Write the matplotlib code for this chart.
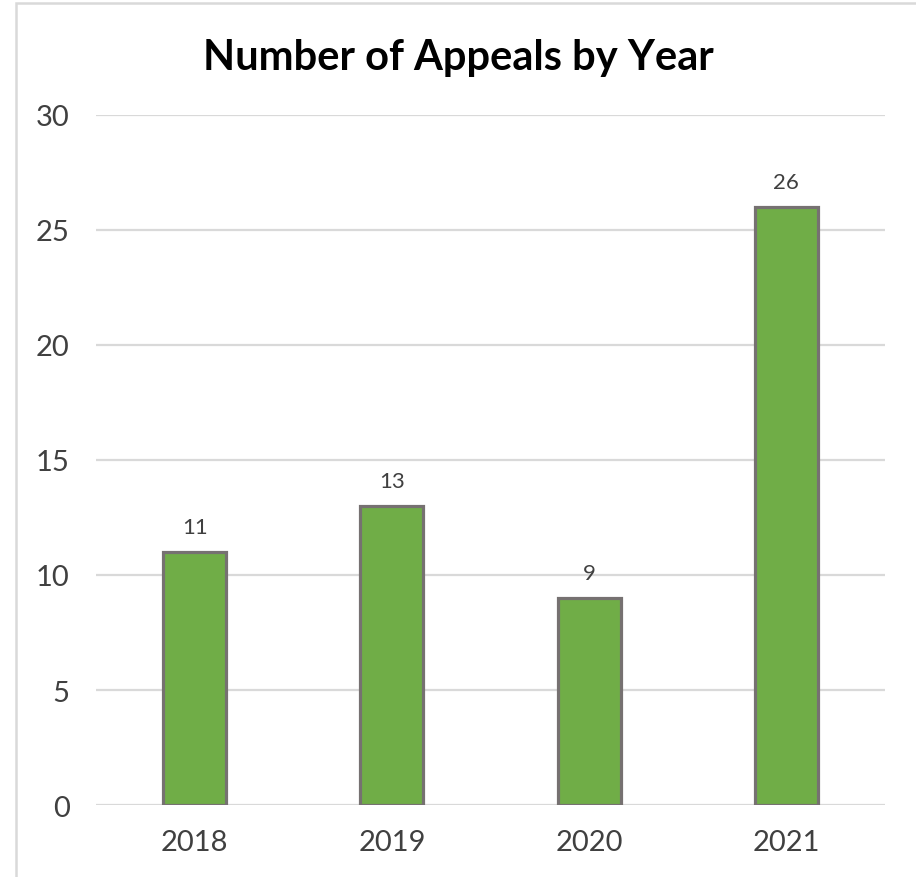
import matplotlib
matplotlib.use('Agg')
import matplotlib.pyplot as plt
from matplotlib.patches import Rectangle

# Appeals per year
years = ['2018', '2019', '2020', '2021']
appeals = [11, 13, 9, 26]
y_ticks = [0, 5, 10, 15, 20, 25, 30]

plt.rcParams['font.family'] = ['Lato', 'DejaVu Sans']

fig = plt.figure(figsize=(9.16, 8.78), dpi=100)
ax = fig.add_axes([0.1048, 0.082, 0.8614, 0.7859])

bars = ax.bar(years, appeals, width=0.32, color='#70AD47',
              edgecolor='#767171', linewidth=2.3, zorder=3)

for bar, val in zip(bars, appeals):
    ax.annotate(str(val), (bar.get_x() + bar.get_width() / 2, val),
                xytext=(0, 11), textcoords='offset points',
                ha='center', va='bottom', fontsize=16, color='#404040')

ax.set_ylim(0, 30)
ax.set_xlim(-0.5, 3.5)
ax.set_yticks(y_ticks)
ax.yaxis.grid(True, color='#d9d9d9', linewidth=1.6, zorder=0)
ax.set_axisbelow(True)
for side in ['top', 'right', 'left', 'bottom']:
    ax.spines[side].set_visible(False)
ax.tick_params(axis='both', length=0, labelsize=21, colors='#404040')
ax.tick_params(axis='y', pad=19)
ax.tick_params(axis='x', pad=17)

fig.text(0.5, 1 - 70 / 878, 'Number of Appeals by Year', ha='center', va='baseline',
         fontsize=30, fontweight='bold', color='black')

# chart frame
fig.patches.append(Rectangle((16 / 916, -0.1), 1.2, 1.1 - 4 / 878,
                             transform=fig.transFigure, fill=False,
                             edgecolor='#d9d9d9', linewidth=1.8))

fig.savefig('out.png', dpi=100, facecolor='white')
